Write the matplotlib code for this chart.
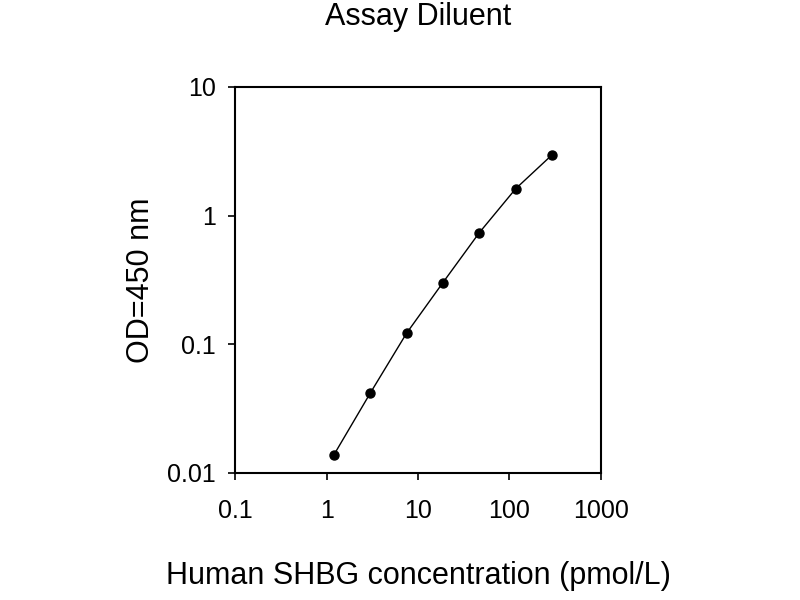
import matplotlib
matplotlib.use("Agg")
import matplotlib.pyplot as plt
from matplotlib.ticker import FixedLocator, FixedFormatter, NullLocator

plt.rcParams['font.family'] = ['Liberation Sans', 'DejaVu Sans']

# standard curve values
concentration = [1.2, 3.0, 7.5, 18.75, 46.9, 117.2, 293.0]
od_450 = [0.0138, 0.0417, 0.122, 0.302, 0.738, 1.62, 2.97]

x_ticks = [0.1, 1, 10, 100, 1000]
x_labels = ["0.1", "1", "10", "100", "1000"]
y_ticks = [0.01, 0.1, 1, 10]
y_labels = ["0.01", "0.1", "1", "10"]

fig = plt.figure(figsize=(8, 6), dpi=100)
ax = fig.add_axes([0.294, 0.2117, 0.457, 0.6433])

ax.plot(concentration, od_450, color="black", linewidth=1.0,
        marker="o", markersize=6.5, markerfacecolor="black")

ax.set_xscale("log")
ax.set_yscale("log")
ax.set_xlim(0.1, 1000)
ax.set_ylim(0.01, 10)

ax.xaxis.set_major_locator(FixedLocator(x_ticks))
ax.xaxis.set_major_formatter(FixedFormatter(x_labels))
ax.xaxis.set_minor_locator(NullLocator())
ax.yaxis.set_major_locator(FixedLocator(y_ticks))
ax.yaxis.set_major_formatter(FixedFormatter(y_labels))
ax.yaxis.set_minor_locator(NullLocator())

ax.tick_params(direction="out", length=5, width=1.2, labelsize=18)
ax.tick_params(axis="x", pad=14)
ax.tick_params(axis="y", pad=9)
for s in ax.spines.values():
    s.set_linewidth(1.5)

ax.set_xlabel("Human SHBG concentration (pmol/L)", fontsize=22, labelpad=27)
ax.set_ylabel("OD=450 nm", fontsize=22, labelpad=8)
ax.set_title("Assay Diluent", fontsize=22, pad=45)

fig.savefig("out.png", dpi=100, facecolor="white")
